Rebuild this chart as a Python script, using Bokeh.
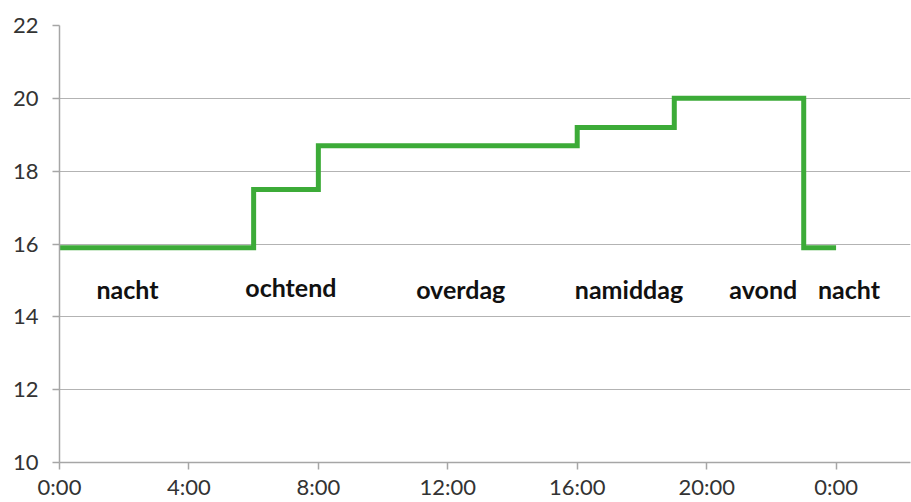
from bokeh.plotting import figure
from bokeh.models import FixedTicker, ColumnDataSource, Range1d
from bokeh.core.properties import value
from bokeh.embed import file_html
from bokeh.resources import INLINE

# step data (hour of day, temperature)
hours = [0, 6, 8, 16, 19, 23, 24]
temps = [15.9, 17.5, 18.7, 19.2, 20.0, 15.9, 15.9]

tick_hours = [0, 4, 8, 12, 16, 20, 24]
tick_labels = ["0:00", "4:00", "8:00", "12:00", "16:00", "20:00", "0:00"]
y_ticks = [10, 12, 14, 16, 18, 20, 22]

period_names = ["nacht", "ochtend", "overdag", "namiddag", "avond", "nacht"]
period_x = [2.1, 7.15, 12.4, 17.6, 21.75, 24.4]
period_y = [14.77, 14.82, 14.77, 14.77, 14.77, 14.77]

p = figure(width=911, height=502, output_backend="svg", toolbar_location=None,
           x_range=Range1d(0, 26.3), y_range=Range1d(10, 22),
           min_border_left=59, min_border_right=1, min_border_top=25, min_border_bottom=40)
p.outline_line_color = None
p.background_fill_color = "white"

p.step(x=hours, y=temps, mode="after", line_color="#3cab38", line_width=5, line_join="miter")

src = ColumnDataSource(dict(x=period_x, y=period_y, t=period_names))
p.text(x="x", y="y", text="t", source=src, text_align="center", text_baseline="alphabetic",
       text_font=value("Lato"), text_font_style="bold", text_font_size="25px", text_color="#111111")

p.xaxis.ticker = FixedTicker(ticks=tick_hours)
p.xaxis.major_label_overrides = {h: l for h, l in zip(tick_hours, tick_labels)}
p.yaxis.ticker = FixedTicker(ticks=y_ticks)

for ax in (p.xaxis, p.yaxis):
    ax.axis_line_color = "#a6a6a6"
    ax.axis_line_width = 1.5
    ax.major_tick_line_color = "#a6a6a6"
    ax.major_tick_line_width = 1.5
    ax.major_tick_in = 0
    ax.major_tick_out = 7
    ax.minor_tick_line_color = None
    ax.major_label_text_font = "Lato"
    ax.major_label_text_font_size = "22px"
    ax.major_label_text_color = "#333333"
p.xaxis.major_label_standoff = 3
p.yaxis.major_label_standoff = 14

p.xgrid.grid_line_color = None
p.ygrid.grid_line_color = "#b3b3b3"
p.ygrid.grid_line_width = 1.2

open("out.html", "w").write(file_html(p, INLINE))
